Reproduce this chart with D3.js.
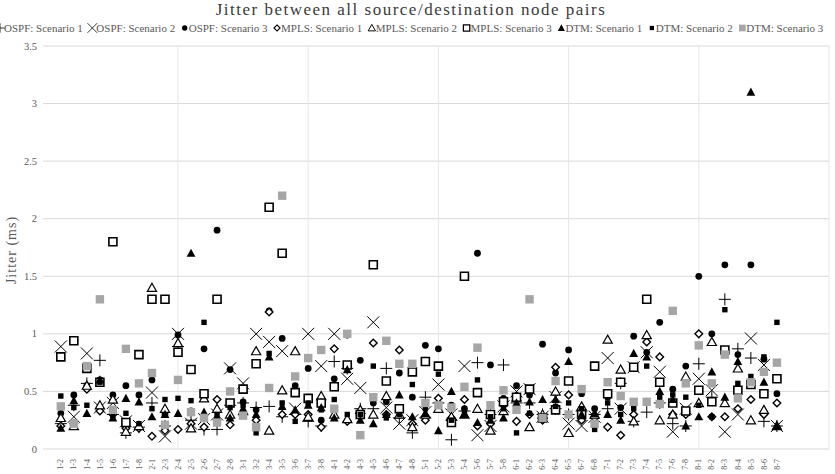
<!DOCTYPE html>
<html>
<head>
<meta charset="utf-8">
<script src="https://cdn.jsdelivr.net/npm/d3@7/dist/d3.min.js"></script>
<style>
  body { margin: 0; background: #fff; }
  svg { display: block; }
  text { font-family: "Liberation Serif", "DejaVu Serif", serif; }
</style>
</head>
<body>
<div id="chart"></div>
<script>
	// node pairs on the x axis
	var pairs = ["1-2","1-3","1-4","1-5","1-6","1-7","1-8",
		"2-1","2-3","2-4","2-5","2-6","2-7","2-8",
		"3-1","3-2","3-4","3-5","3-6","3-7","3-8",
		"4-1","4-2","4-3","4-5","4-6","4-7","4-8",
		"5-1","5-2","5-3","5-4","5-6","5-7","5-8",
		"6-1","6-2","6-3","6-4","6-5","6-7","6-8",
		"7-1","7-2","7-3","7-4","7-5","7-6","7-8",
		"8-1","8-2","8-3","8-4","8-5","8-6","8-7"];

	// jitter (ms) per pair
	var ospf1 = [0.22,0.38,0.57,0.77,0.30,0.14,0.19, 0.40,0.20,0.89,0.25,0.17,0.17,0.38, 0.40,0.36,0.37,0.28,0.30,0.24,0.20,
		0.76,0.70,0.35,0.35,0.70,0.27,0.14, 0.45,0.40,0.08,0.33,0.75,0.30,0.73, 0.40,0.40,0.30,0.35,0.30,0.33,0.30,
		0.35,0.57,0.24,0.32,0.40,0.22,0.20, 0.74,0.45,1.30,0.87,0.79,0.24,0.20];
	var ospf2 = [0.89,0.28,0.83,0.36,0.40,0.24,0.20, 0.49,0.11,1.00,0.22,0.26,0.30,0.70, 0.57,1.00,0.93,0.85,0.35,1.00,0.72,
		1.00,0.61,0.53,1.10,0.36,0.22,0.25, 0.32,0.56,0.30,0.72,0.12,0.20,0.37, 0.50,0.52,0.28,0.45,0.22,0.20,0.28,
		0.79,0.35,0.71,0.84,0.67,0.15,0.35, 0.61,0.51,0.15,0.30,0.96,0.73,0.20];
	var ospf3 = [0.31,0.47,0.55,0.60,0.47,0.55,0.47, 0.60,0.30,0.99,0.33,0.87,1.90,0.69, 0.41,0.34,1.20,0.96,0.55,0.70,0.25,
		0.61,0.99,0.77,0.40,0.41,0.66,0.45, 0.90,0.87,0.38,0.35,1.70,0.73,0.44, 0.55,0.47,0.91,0.66,0.86,0.48,0.35,
		0.45,0.36,0.98,0.84,1.10,0.52,0.72, 1.50,1.00,1.60,0.82,1.60,0.78,0.48];
	var mpls1 = [0.20,0.22,0.52,0.33,0.30,0.18,0.18, 0.11,0.16,0.17,0.22,0.19,0.43,0.21, 0.30,0.25,1.19,0.30,0.30,0.30,0.19,
		0.87,0.24,0.30,0.92,0.30,0.86,0.22, 0.25,0.44,0.27,0.43,0.20,0.22,0.38, 0.24,0.30,0.25,0.71,0.47,0.25,0.27,
		0.19,0.12,0.30,0.93,0.80,0.30,0.30, 1.00,0.28,0.28,0.35,0.43,0.30,0.40];
	var mpls2 = [0.27,0.20,0.55,0.38,0.43,0.15,0.20, 1.40,0.35,0.92,0.18,0.44,0.35,0.30, 0.33,0.85,0.16,0.51,0.85,0.28,0.46,
		0.30,0.26,0.34,0.30,0.46,0.30,0.19, 0.30,0.35,0.28,0.30,0.35,0.16,0.33, 0.45,0.19,0.30,0.50,0.14,0.37,0.30,
		0.95,0.69,0.24,0.99,0.25,0.30,0.63, 0.40,0.93,0.40,0.70,0.25,0.34,0.20];
	var mpls3 = [0.80,0.94,0.70,0.58,1.80,0.23,0.82, 1.30,1.30,0.84,0.69,0.48,1.30,0.40, 0.52,0.74,2.10,1.70,0.49,0.44,0.40,
		0.54,0.73,0.30,1.60,0.59,0.35,0.67, 0.76,0.72,0.23,1.50,0.49,0.30,0.41, 0.45,0.52,0.27,0.34,0.59,0.30,0.72,
		0.48,0.58,0.71,1.30,0.58,0.40,0.33, 0.51,0.41,0.86,0.51,0.56,0.48,0.61];
	var dtm1 = [0.18,0.42,0.31,0.60,0.27,0.44,0.41, 0.28,0.30,0.31,1.70,0.32,0.28,0.27, 0.35,0.30,0.80,0.37,0.34,0.38,0.36,
		0.27,0.69,0.25,0.22,0.30,0.47,0.28, 0.31,0.16,0.50,0.30,0.23,0.25,0.27, 0.40,0.41,0.43,0.43,0.76,0.30,0.31,
		0.30,0.25,0.83,0.80,0.50,0.43,0.20, 0.28,0.67,0.45,0.76,3.10,0.58,0.20];
	var dtm2 = [0.46,0.36,0.38,0.58,0.29,0.31,0.22, 0.35,0.43,0.44,0.42,1.10,0.30,0.36, 0.38,0.14,0.83,0.40,0.24,0.40,0.34,
		0.43,0.30,0.30,0.72,0.27,0.30,0.56, 0.35,0.65,0.25,0.31,0.60,0.28,0.35, 0.14,0.31,0.28,0.37,0.40,0.35,0.17,
		0.40,0.30,0.35,0.72,0.45,0.47,0.45, 0.38,0.28,1.21,0.57,0.63,0.80,1.10];
	var dtm3 = [0.37,0.22,0.72,1.30,0.34,0.87,0.57, 0.66,0.21,0.60,0.32,0.27,0.23,0.50, 0.29,0.19,0.53,2.20,0.63,0.79,0.86,
		0.35,1.00,0.12,0.45,0.94,0.74,0.74, 0.40,0.38,0.36,0.54,0.88,0.38,0.51, 0.34,1.30,0.27,0.59,0.30,0.52,0.22,
		0.58,0.46,0.41,0.41,0.39,1.20,0.57, 0.90,0.57,0.82,0.44,0.58,0.67,0.75];

	var seriesNames = ["OSPF: Scenario 1","OSPF: Scenario 2","OSPF: Scenario 3",
		"MPLS: Scenario 1","MPLS: Scenario 2","MPLS: Scenario 3",
		"DTM: Scenario 1","DTM: Scenario 2","DTM: Scenario 3"];
	var seriesValues = [ospf1, ospf2, ospf3, mpls1, mpls2, mpls3, dtm1, dtm2, dtm3];

	var yTicks = [0, 0.5, 1, 1.5, 2, 2.5, 3, 3.5];
	var xGrid = [10, 20, 30, 40, 50, 60];

	// marker look for each series (same order as seriesNames)
	var markers = [
		{ d: "M-6,0H6M0,-6V6", fill: "none", stroke: "#000", sw: 1 },
		{ d: "M-6,-6L6,6M-6,6L6,-6", fill: "none", stroke: "#000", sw: 1 },
		{ d: d3.symbol().type(d3.symbolCircle).size(36)(), fill: "#000", stroke: "none", sw: 0 },
		{ d: "M0,-3.8L3.8,0L0,3.8L-3.8,0Z", fill: "#fff", stroke: "#000", sw: 1.4 },
		{ d: "M0,-4.5L4.6,3.6L-4.6,3.6Z", fill: "#fff", stroke: "#000", sw: 1.2 },
		{ d: "M-4,-4H4V4H-4Z", fill: "#fff", stroke: "#000", sw: 1.6 },
		{ d: "M0,-4.6L4.4,3.6L-4.4,3.6Z", fill: "#000", stroke: "none", sw: 0 },
		{ d: "M-2.7,-2.7H2.7V2.7H-2.7Z", fill: "#000", stroke: "none", sw: 0 },
		{ d: "M-4.2,-4.2H4.2V4.2H-4.2Z", fill: "#a6a6a6", stroke: "none", sw: 0 }
	];

	var width = 835, height = 474;

	var svg = d3.select('#chart').append('svg')
		.attr('width', width)
		.attr('height', height);

	var x = d3.scaleLinear().domain([0, 60]).range([47.8, 829]);
	var y = d3.scaleLinear().domain([0, 3.5]).range([449, 46]);

	// gridlines
	svg.selectAll("line.h")
		.data(yTicks)
		.enter()
		.append("line")
		.attr("x1", 43)
		.attr("x2", x(60))
		.attr("y1", function(d){ return y(d); })
		.attr("y2", function(d){ return y(d); })
		.attr("stroke", "#d9d9d9")
		.attr("stroke-width", 1);

	svg.selectAll("line.v")
		.data(xGrid)
		.enter()
		.append("line")
		.attr("x1", function(d){ return x(d); })
		.attr("x2", function(d){ return x(d); })
		.attr("y1", y(3.5))
		.attr("y2", y(0))
		.attr("stroke", "#e6e6e6")
		.attr("stroke-width", 1);

	// y tick labels
	svg.selectAll("text.ytick")
		.data(yTicks)
		.enter()
		.append("text")
		.attr("x", 37)
		.attr("y", function(d){ return y(d) + 3.5; })
		.attr("text-anchor", "end")
		.attr("font-size", "10.5px")
		.attr("fill", "#595959")
		.text(function(d){ return d; });

	// x labels, rotated
	svg.selectAll("text.xtick")
		.data(pairs)
		.enter()
		.append("text")
		.attr("transform", function(d, i){ return "translate(" + x(i + 1) + ",459) rotate(-90)"; })
		.attr("dy", "0.33em")
		.attr("text-anchor", "end")
		.attr("font-size", "8px")
		.attr("fill", "#595959")
		.text(function(d){ return d; });

	// points
	seriesValues.forEach(function(vals, s){
		var m = markers[s];
		svg.append("g")
			.selectAll("path")
			.data(vals)
			.enter()
			.append("path")
			.attr("transform", function(d, i){ return "translate(" + x(i + 1) + "," + y(d) + ")"; })
			.attr("d", m.d)
			.attr("fill", m.fill)
			.attr("stroke", m.stroke)
			.attr("stroke-width", m.sw);
	});

	// title
	svg.append("text")
		.attr("x", 411)
		.attr("y", 15)
		.attr("text-anchor", "middle")
		.attr("font-size", "17px")
		.attr("letter-spacing", "1.5px")
		.attr("fill", "#3a3a3a")
		.text("Jitter between all source/destination node pairs");

	// y axis title
	svg.append("text")
		.attr("transform", "translate(16,250) rotate(-90)")
		.attr("text-anchor", "middle")
		.attr("font-size", "14px")
		.attr("letter-spacing", "1px")
		.attr("fill", "#595959")
		.text("Jitter (ms)");

	// legend
	var legend = svg.append("g");
	var cursor = 0;
	seriesNames.forEach(function(name, s){
		var m = markers[s];
		legend.append("path")
			.attr("transform", "translate(" + cursor + ",28) scale(0.8)")
			.attr("d", m.d)
			.attr("fill", m.fill)
			.attr("stroke", m.stroke)
			.attr("stroke-width", m.sw);
		var t = legend.append("text")
			.attr("x", cursor + 4)
			.attr("y", 31.5)
			.attr("font-size", "11px")
			.attr("fill", "#595959")
			.text(name);
		cursor += 4 + t.node().getComputedTextLength() + 9.5;
	});
</script>
</body>
</html>
